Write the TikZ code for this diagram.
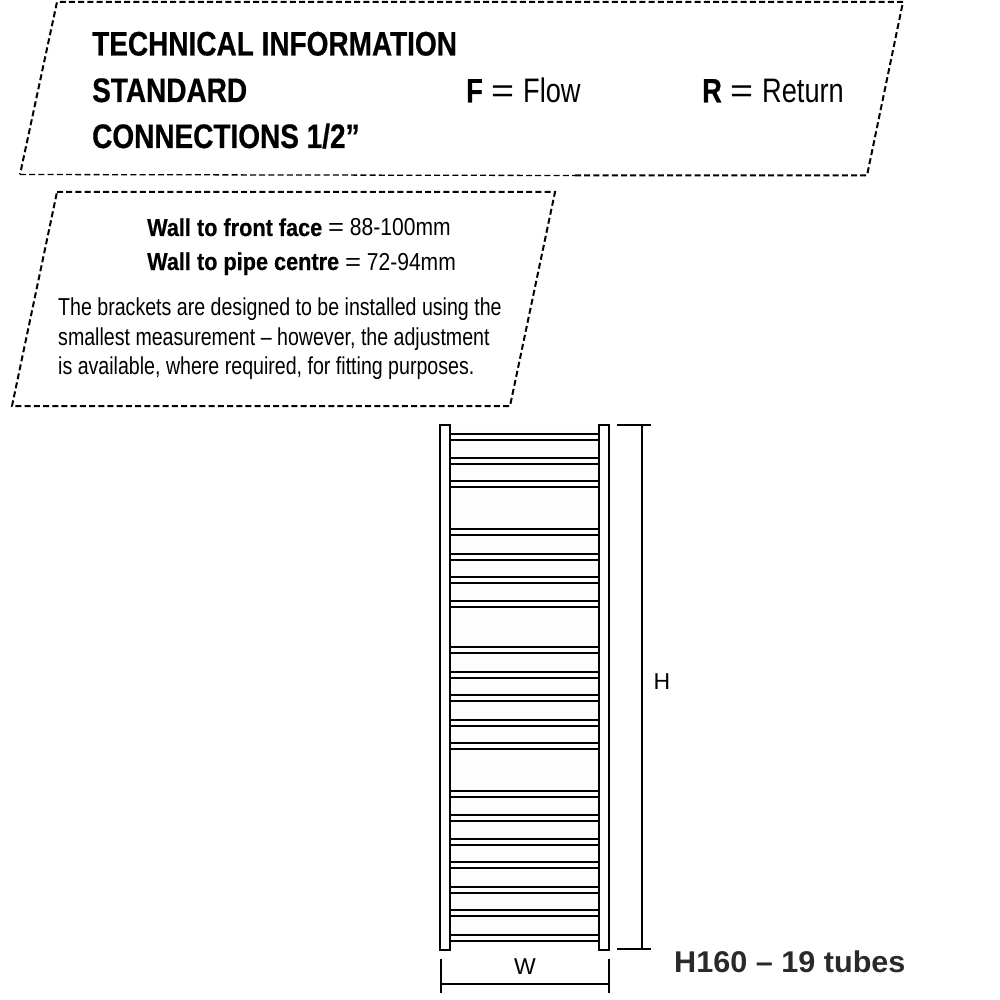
\documentclass[tikz,border=0pt]{standalone}
\usepackage{fontspec}
\setmainfont{Liberation Sans}
\newfontfamily\headfont[FakeStretch=0.823,FakeBold=0.6]{Liberation Sans}
\newfontfamily\bodyfont[FakeStretch=0.80]{Liberation Sans}
\newfontfamily\wallfont[FakeStretch=0.86]{Liberation Sans}
\newfontfamily\wallbold[FakeStretch=0.885,FakeBold=0.4]{Liberation Sans Bold}
\newfontfamily\boldletter[FakeStretch=0.8,FakeBold=0.6]{Liberation Sans Bold}
\newfontfamily\widefont[FakeStretch=1.02]{Liberation Sans Bold}
\newcommand{\wideeq}[1]{\scalebox{#1}[1]{=}}
\definecolor{tubefill}{HTML}{FDFDFD}
\definecolor{modelgrey}{HTML}{2A2A2A}
\tikzset{
  panel/.style={draw=black,line width=2pt,dash pattern=on 6pt off 3.2pt},
  panelthin/.style={draw=black,line width=1.3pt,dash pattern=on 6pt off 3.2pt},
  rail/.style={draw=black,line width=2.3pt,fill=white,rectangle,minimum width=10pt,inner sep=0pt},
  tube/.style={draw=black,line width=2pt,fill=white},
  dimline/.style={draw=black,line width=2pt},
  heading/.style={anchor=base west,inner sep=0pt,font=\headfont\bfseries\fontsize{34}{34}\selectfont},
  midtext/.style={anchor=base west,inner sep=0pt,font=\bodyfont\fontsize{34}{34}\selectfont},
  walltext/.style={anchor=base west,inner sep=0pt,font=\wallfont\fontsize{24.5}{24.5}\selectfont},
  small/.style={anchor=base west,inner sep=0pt,font=\bodyfont\fontsize{24.5}{24.5}\selectfont},
  dimlabel/.style={inner sep=0pt,font=\fontsize{23}{23}\selectfont},
}
\begin{document}
\begin{tikzpicture}[x=1pt,y=-1pt]
\useasboundingbox (0,0) rectangle (1000,1000);
\coordinate (pa) at (57,2);
\coordinate (pb) at (903,2);
\coordinate (pc) at (867,175.5);
\coordinate (pd) at (575,175.5);
\coordinate (pe) at (20,174.5);
\draw[panel] (pd) -- (pc) -- (pb) -- (pa) -- (pe);
\draw[panelthin] (pe) -- (pd);
\draw[panel] (57,192) -- (555,192) -- (510,406) -- (12,406) -- cycle;
\node[heading] (h1) at (92,55.5) {TECHNICAL INFORMATION};
\node[heading] (h2) at (92,102) {STANDARD};
\node[heading] (h3) at (92,148) {CONNECTIONS 1/2”};
\node[midtext] (flow) at (466,102.5) {\makebox[25pt][l]{\boldletter F}\makebox[32pt][l]{\wideeq{1.45}}Flow};
\node[midtext] (ret) at (702,102.5) {\makebox[28pt][l]{\boldletter R}\makebox[32pt][l]{\wideeq{1.45}}Return};
\node[walltext] (w1) at (147,236) {{\wallbold Wall to front face} \wideeq{1.3} 88-100mm};
\node[walltext] (w2) at (147,270) {{\wallbold Wall to pipe centre} \wideeq{1.3} 72-94mm};
\node[small] (b1) at (58,315) {The brackets are designed to be installed using the};
\node[small] (b2) at (58,345) {smallest measurement – however, the adjustment};
\node[small] (b3) at (58,374) {is available, where required, for fitting purposes.};
% panel behind the tubes
\fill[tubefill] (450,430) rectangle (599,945);
% tubes
\foreach \t in {434,457.5,481,529,553.5,577,600.5,647,671.5,695,719.5,743,790.5,814.5,839,862,887,910,934.5}{
  \draw[tube] (450,\t) rectangle (599,\t+6.3);
}
% rails
\node[rail,minimum height=525pt] (leftrail) at (445,687.5) {};
\node[rail,minimum height=525pt] (rightrail) at (604,687.5) {};
% H dimension
\coordinate (ha) at (617,425);
\coordinate (hb) at (651,425);
\coordinate (hc) at (617,949);
\coordinate (hd) at (651,949);
\coordinate (he) at (641.5,425);
\coordinate (hf) at (641.5,949);
\draw[dimline] (ha) -- (hb);
\draw[dimline] (hc) -- (hd);
\draw[dimline] (he) -- (hf);
\node[dimlabel] (H) at (662,682) {H};
% W dimension
\coordinate (wa) at (440.5,959);
\coordinate (wb) at (440.5,993);
\coordinate (wc) at (609,959);
\coordinate (wd) at (609,993);
\coordinate (we) at (440.5,983.5);
\coordinate (wf) at (609,983.5);
\draw[dimline] (wa) -- (wb);
\draw[dimline] (wc) -- (wd);
\draw[dimline] (we) -- (wf);
\node[dimlabel] (W) at (525,967) {W};
\node[anchor=base west,inner sep=0pt,font=\widefont\fontsize{30}{30}\selectfont,text=modelgrey] (model) at (674,972) {H160 – 19 tubes};
\end{tikzpicture}
\end{document}
